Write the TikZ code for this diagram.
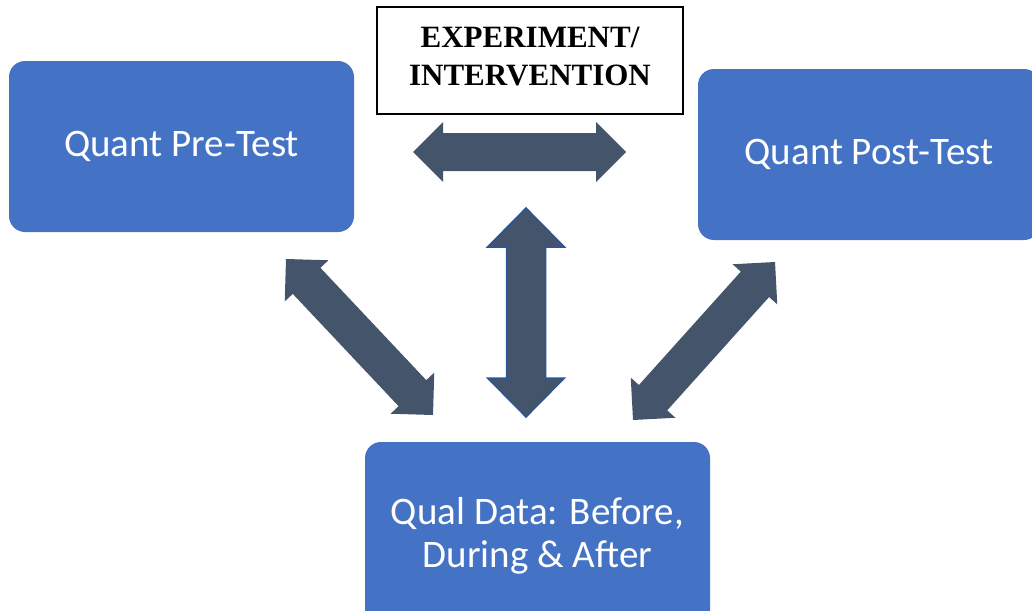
\documentclass[tikz,border=0pt]{standalone}
\usepackage{fontspec}
\setmainfont{Carlito}
\newfontfamily\timesfont{Liberation Serif}
\usetikzlibrary{calc}
\definecolor{boxblue}{HTML}{4472C4}
\definecolor{arrowgray}{HTML}{44546A}
\definecolor{edgeblue}{HTML}{2F5597}
% #1 style, #2 start, #3 end, #4 head length, #5 shaft half width, #6 head half width
\newcommand\dblarrow[6]{%
\path[#1] (#2) -- ($(#2)!#4!(#3)!#6!90:(#3)$) -- ($(#2)!#4!(#3)!#5!90:(#3)$)
 -- ($(#3)!#4!(#2)!#5!-90:(#2)$) -- ($(#3)!#4!(#2)!#6!-90:(#2)$) -- (#3)
 -- ($(#3)!#4!(#2)!#6!90:(#2)$) -- ($(#3)!#4!(#2)!#5!90:(#2)$)
 -- ($(#2)!#4!(#3)!#5!-90:(#3)$) -- ($(#2)!#4!(#3)!#6!-90:(#3)$) -- cycle;}
\begin{document}
\begin{tikzpicture}[x=1pt,y=-1pt,
  bluebox/.style={fill=boxblue, rounded corners=16pt, text=white,
    font=\fontsize{39}{43}\selectfont, align=center, inner sep=0pt},
  expbox/.style={draw=black, line width=1.5pt, fill=white, inner sep=0pt},
  exptext/.style={font=\timesfont\bfseries\fontsize{31}{38}\selectfont, align=center, inner sep=0pt},
  blockarrow/.style={fill=arrowgray},
  blockarrowedge/.style={fill=arrowgray, draw=edgeblue, line width=1.5pt, line join=miter}]
\useasboundingbox (0,0) rectangle (1032,610);
\clip (0,0) rectangle (1032,610);
\node[bluebox, minimum width=345pt, minimum height=171pt] (pre) at (181.5,146.5) {Quant Pre-Test};
\node[bluebox, minimum width=342pt, minimum height=171pt] (post) at (869,154.5) {Quant Post-Test};
\node[bluebox, minimum width=345pt, minimum height=187pt] (qual) at (537.5,535.5) {Qual Data: Before,\\During \& After};
\node[expbox, minimum width=306pt, minimum height=107pt] (exp) at (530,60.5) {};
\node[exptext] (exptxt) at ($(exp.center)+(0,-4)$) {EXPERIMENT/\\INTERVENTION};
\coordinate (hl) at (413,152);
\coordinate (hr) at (626,152);
\coordinate (vt) at (526,208);
\coordinate (vb) at (526,417);
\coordinate (lt) at (286,259);
\coordinate (lb) at (433,415);
\coordinate (rt) at (775,262);
\coordinate (rb) at (633,420);
\dblarrow{blockarrow}{hl}{hr}{30pt}{19pt}{30pt}
\dblarrow{blockarrowedge}{vt}{vb}{39pt}{19.5pt}{38.5pt}
\dblarrow{blockarrow}{lt}{lb}{30pt}{19pt}{30pt}
\dblarrow{blockarrow}{rt}{rb}{30pt}{19pt}{30pt}
\end{tikzpicture}
\end{document}
